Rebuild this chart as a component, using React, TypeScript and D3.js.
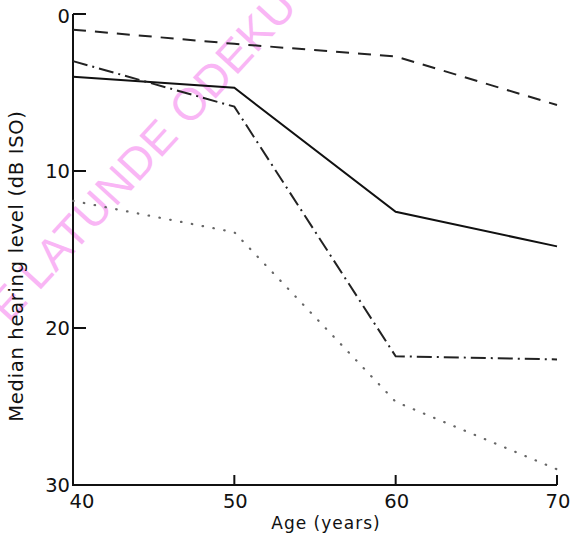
import React, { useEffect, useRef } from 'react';
import * as d3 from 'd3';

const ages = [40, 50, 60, 70];
const xTicks = [40, 50, 60, 70];
const yTicks = [0, 10, 20, 30];

// median hearing level (dB ISO)
const dashedSeries = [1.0, 1.9, 2.7, 5.8];
const solidSeries = [4.0, 4.7, 12.6, 14.8];
const dashDotSeries = [3.0, 5.9, 21.8, 22.0];
const dottedSeries = [11.9, 13.9, 24.7, 29.0];

const xTitle = 'Age (years)';
const yTitle = 'Median hearing level (dB ISO)';
const watermark = 'E LATUNDE ODEKU MEDICAL LIBRARY';

export default function App() {
  const svgRef = useRef<SVGSVGElement | null>(null);

  useEffect(() => {
    if (!svgRef.current) return;
    const width = 570;
    const height = 536;
    const font = '"DejaVu Sans", sans-serif';

    const svg = d3.select(svgRef.current);
    svg.selectAll('*').remove();
    svg.attr('width', width).attr('height', height);

    svg.append('rect').attr('width', width).attr('height', height).attr('fill', '#fff');

    const x = d3.scaleLinear().domain([40, 70]).range([73, 557]);
    const y = d3.scaleLinear().domain([0, 30]).range([14, 485]);

    // watermark
    svg.append('text')
      .attr('transform', 'translate(9,324) rotate(-47.5)')
      .attr('font-family', '"Liberation Sans", sans-serif')
      .attr('font-size', 45)
      .attr('letter-spacing', 0.5)
      .attr('fill', '#f9b6f5')
      .text(watermark);

    // axes
    svg.append('line')
      .attr('x1', x(40)).attr('x2', x(40))
      .attr('y1', y(0)).attr('y2', y(30))
      .attr('stroke', '#111').attr('stroke-width', 2);
    svg.append('line')
      .attr('x1', x(40) - 1).attr('x2', x(70))
      .attr('y1', y(30)).attr('y2', y(30))
      .attr('stroke', '#111').attr('stroke-width', 2);

    svg.selectAll('.ytick')
      .data(yTicks.filter(d => d !== 30))
      .enter()
      .append('line')
      .attr('x1', x(40)).attr('x2', x(40) + 13)
      .attr('y1', d => y(d)).attr('y2', d => y(d))
      .attr('stroke', '#111').attr('stroke-width', 2);

    svg.selectAll('.xtick')
      .data(xTicks.filter(d => d !== 40))
      .enter()
      .append('line')
      .attr('x1', d => x(d)).attr('x2', d => x(d))
      .attr('y1', y(30)).attr('y2', y(30) - 10)
      .attr('stroke', '#111').attr('stroke-width', 2);

    svg.selectAll('.ylab')
      .data(yTicks)
      .enter()
      .append('text')
      .attr('x', x(40) - 3)
      .attr('y', d => y(d) + (d === 0 ? 9 : 7))
      .attr('text-anchor', 'end')
      .attr('font-family', font)
      .attr('font-size', 19.5)
      .attr('fill', '#111')
      .text(d => d);

    svg.selectAll('.xlab')
      .data(xTicks)
      .enter()
      .append('text')
      .attr('x', d => (d === 40 ? x(d) + 9 : x(d) + 1))
      .attr('y', y(30) + 23)
      .attr('text-anchor', 'middle')
      .attr('font-family', font)
      .attr('font-size', 19.5)
      .attr('fill', '#111')
      .text(d => d);

    svg.append('text')
      .attr('x', 326)
      .attr('y', 529)
      .attr('text-anchor', 'middle')
      .attr('font-family', font)
      .attr('font-size', 17)
      .attr('letter-spacing', 1)
      .attr('fill', '#111')
      .text(xTitle);

    svg.append('text')
      .attr('transform', 'translate(23,266) rotate(-90)')
      .attr('text-anchor', 'middle')
      .attr('font-family', font)
      .attr('font-size', 19.5)
      .attr('letter-spacing', 0.7)
      .attr('fill', '#111')
      .text(yTitle);

    const line = d3.line<number>()
      .x((_, i) => x(ages[i]))
      .y(d => y(d));

    const series = [
      { values: dashedSeries, dash: '13 9', width: 2, color: '#222', cap: 'butt' },
      { values: solidSeries, dash: null, width: 2, color: '#111', cap: 'butt' },
      { values: dashDotSeries, dash: '15 5 2 5', width: 2, color: '#222', cap: 'butt' },
      { values: dottedSeries, dash: '0.5 10.5', width: 2.2, color: '#666', cap: 'round' },
    ];

    series.forEach(s => {
      svg.append('path')
        .attr('d', line(s.values))
        .attr('fill', 'none')
        .attr('stroke', s.color)
        .attr('stroke-width', s.width)
        .attr('stroke-linecap', s.cap)
        .attr('stroke-dasharray', s.dash);
    });
  }, []);

  return <svg ref={svgRef} style={{ display: 'block', position: 'absolute', left: 0, top: 0 }}></svg>;
}
